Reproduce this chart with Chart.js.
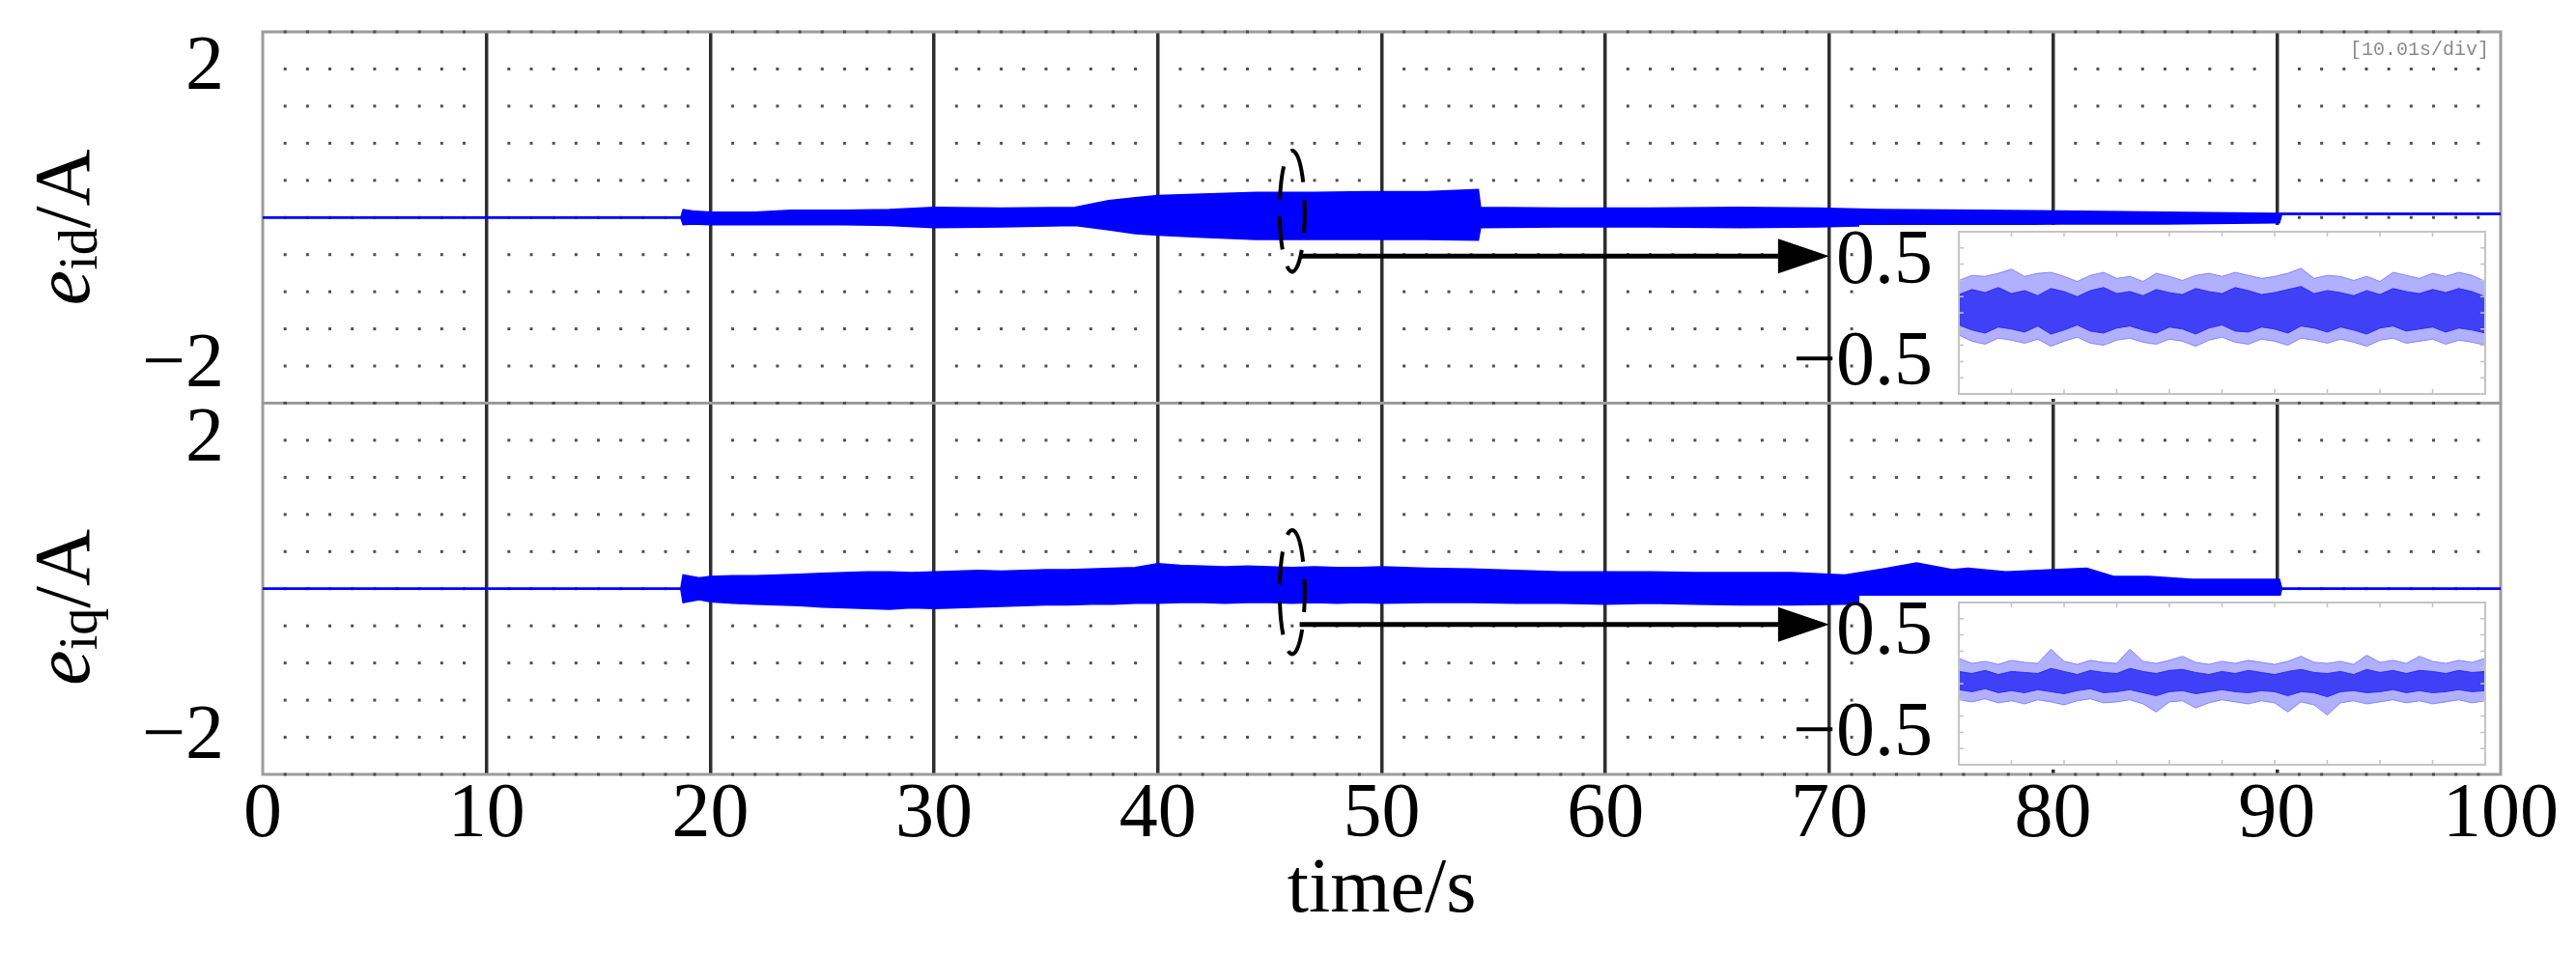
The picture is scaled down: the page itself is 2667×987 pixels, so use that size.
<!DOCTYPE html>
<html>
<head>
<meta charset="utf-8">
<title>e_id / e_iq</title>
<script src="https://cdn.jsdelivr.net/npm/chart.js@4.4.1/dist/chart.umd.min.js"></script>
<style>
  html, body { margin: 0; padding: 0; background: #fff; }
  #wrap { position: relative; width: 2667px; height: 987px; }
  canvas { position: absolute; }
</style>
</head>
<body>
<div id="wrap">
  <canvas id="main" width="2667" height="987" style="left:0;top:0"></canvas>
  <canvas id="inset-id" width="740" height="230" style="left:1860px;top:200px"></canvas>
  <canvas id="inset-iq" width="740" height="230" style="left:1860px;top:584px"></canvas>
</div>
<script>

// e_id envelope (A), upper panel
const idTime  = [0, 18.7, 18.8, 19.2, 20, 22, 23.6, 26, 28, 30, 33, 36.3, 37.8, 39, 40, 42, 44.4, 47, 49.4, 52, 54.3, 54.4, 58, 62, 66, 69.5, 72.2, 76.7, 80.3, 85, 90.1, 90.2, 100];
const idUpper = [0, 0, 0.10, 0.08, 0.065, 0.065, 0.09, 0.09, 0.10, 0.13, 0.12, 0.13, 0.22, 0.26, 0.29, 0.31, 0.33, 0.33, 0.34, 0.34, 0.37, 0.13, 0.12, 0.12, 0.13, 0.12, 0.10, 0.09, 0.08, 0.065, 0.05, 0.05, 0.05];
const idLower = [0, 0, -0.09, -0.08, -0.09, -0.09, -0.09, -0.09, -0.10, -0.13, -0.12, -0.10, -0.16, -0.21, -0.23, -0.26, -0.29, -0.29, -0.29, -0.29, -0.30, -0.13, -0.12, -0.12, -0.13, -0.12, -0.10, -0.09, -0.08, -0.08, -0.065, 0.05, 0.05];

// e_iq envelope (A), lower panel
const iqTime  = [0, 18.7, 18.8, 19.5, 20, 21, 22, 23, 24, 25, 26, 27, 28, 29, 30, 31, 32, 33, 34, 35, 36, 37, 38, 39, 40, 41, 42, 43, 44, 45, 46, 47, 48, 49, 50, 52, 54, 56, 58, 60, 62, 64, 66, 68.3, 70.7, 72.4, 73.9, 75.5, 76.2, 77.9, 80, 81.5, 82.7, 84.3, 86.2, 88, 90.1, 90.2, 100];
const iqUpper = [0, 0, 0.18, 0.14, 0.16, 0.17, 0.17, 0.18, 0.19, 0.20, 0.21, 0.22, 0.22, 0.21, 0.22, 0.23, 0.24, 0.23, 0.24, 0.25, 0.25, 0.26, 0.27, 0.28, 0.33, 0.31, 0.30, 0.29, 0.30, 0.29, 0.28, 0.29, 0.28, 0.28, 0.29, 0.27, 0.26, 0.24, 0.22, 0.22, 0.22, 0.21, 0.21, 0.21, 0.18, 0.26, 0.34, 0.25, 0.27, 0.22, 0.25, 0.27, 0.16, 0.16, 0.12, 0.12, 0.12, 0, 0];
const iqLower = [0, 0, -0.18, -0.14, -0.17, -0.19, -0.20, -0.21, -0.22, -0.24, -0.25, -0.26, -0.27, -0.25, -0.26, -0.25, -0.24, -0.23, -0.22, -0.21, -0.21, -0.20, -0.20, -0.19, -0.19, -0.18, -0.18, -0.19, -0.18, -0.18, -0.19, -0.18, -0.19, -0.18, -0.19, -0.18, -0.18, -0.19, -0.19, -0.20, -0.19, -0.20, -0.21, -0.21, -0.20, -0.17, -0.16, -0.15, -0.15, -0.14, -0.13, -0.13, -0.12, -0.12, -0.12, -0.12, -0.12, 0, 0];

// zoomed insets (same amplitude units, 10 divisions across)
const insetX = [0, 0.25, 0.5, 0.75, 1, 1.25, 1.5, 1.75, 2, 2.25, 2.5, 2.75, 3, 3.25, 3.5, 3.75, 4, 4.25, 4.5, 4.75, 5, 5.25, 5.5, 5.75, 6, 6.25, 6.5, 6.75, 7, 7.25, 7.5, 7.75, 8, 8.25, 8.5, 8.75, 9, 9.25, 9.5, 9.75, 10];
const idOuterTop = [0.32, 0.37, 0.36, 0.39, 0.43, 0.36, 0.39, 0.40, 0.36, 0.31, 0.37, 0.40, 0.34, 0.36, 0.31, 0.39, 0.36, 0.32, 0.37, 0.39, 0.36, 0.40, 0.37, 0.34, 0.36, 0.39, 0.44, 0.34, 0.37, 0.36, 0.32, 0.36, 0.31, 0.40, 0.37, 0.34, 0.39, 0.36, 0.40, 0.37, 0.31];
const idOuterBot = [-0.22, -0.28, -0.31, -0.25, -0.27, -0.30, -0.26, -0.33, -0.28, -0.24, -0.30, -0.32, -0.27, -0.25, -0.29, -0.31, -0.26, -0.28, -0.33, -0.27, -0.24, -0.29, -0.31, -0.26, -0.28, -0.32, -0.25, -0.27, -0.30, -0.26, -0.29, -0.33, -0.27, -0.25, -0.30, -0.28, -0.26, -0.31, -0.27, -0.29, -0.32];
const idCoreTop  = [0.18, 0.23, 0.20, 0.25, 0.19, 0.22, 0.17, 0.24, 0.21, 0.16, 0.22, 0.25, 0.19, 0.21, 0.17, 0.23, 0.20, 0.18, 0.24, 0.21, 0.19, 0.25, 0.22, 0.18, 0.20, 0.23, 0.26, 0.19, 0.22, 0.20, 0.17, 0.22, 0.18, 0.24, 0.21, 0.19, 0.23, 0.20, 0.24, 0.21, 0.16];
const idCoreBot  = [-0.12, -0.17, -0.20, -0.14, -0.16, -0.19, -0.13, -0.21, -0.17, -0.12, -0.18, -0.20, -0.15, -0.13, -0.17, -0.20, -0.14, -0.16, -0.21, -0.15, -0.12, -0.18, -0.19, -0.14, -0.16, -0.20, -0.13, -0.15, -0.19, -0.14, -0.17, -0.21, -0.15, -0.13, -0.18, -0.16, -0.14, -0.19, -0.15, -0.17, -0.20];
const iqOuterTop = [0.25, 0.20, 0.22, 0.19, 0.23, 0.21, 0.20, 0.34, 0.22, 0.19, 0.23, 0.21, 0.20, 0.34, 0.22, 0.20, 0.23, 0.27, 0.21, 0.19, 0.22, 0.20, 0.23, 0.21, 0.19, 0.22, 0.27, 0.21, 0.20, 0.22, 0.19, 0.28, 0.21, 0.23, 0.20, 0.27, 0.22, 0.20, 0.23, 0.21, 0.25];
const iqOuterBot = [-0.16, -0.18, -0.15, -0.19, -0.17, -0.20, -0.16, -0.18, -0.21, -0.17, -0.15, -0.19, -0.18, -0.16, -0.20, -0.28, -0.18, -0.17, -0.24, -0.19, -0.16, -0.18, -0.20, -0.17, -0.19, -0.28, -0.18, -0.21, -0.31, -0.19, -0.17, -0.20, -0.18, -0.16, -0.19, -0.17, -0.20, -0.18, -0.16, -0.19, -0.17];
const iqCoreTop  = [0.12, 0.10, 0.13, 0.09, 0.12, 0.11, 0.10, 0.15, 0.12, 0.09, 0.13, 0.11, 0.10, 0.15, 0.12, 0.10, 0.13, 0.14, 0.11, 0.09, 0.12, 0.10, 0.13, 0.11, 0.09, 0.12, 0.14, 0.11, 0.10, 0.12, 0.09, 0.14, 0.11, 0.13, 0.10, 0.13, 0.12, 0.10, 0.13, 0.11, 0.12];
const iqCoreBot  = [-0.06, -0.08, -0.05, -0.09, -0.07, -0.09, -0.06, -0.08, -0.10, -0.07, -0.05, -0.09, -0.08, -0.06, -0.09, -0.12, -0.08, -0.07, -0.10, -0.08, -0.06, -0.08, -0.09, -0.07, -0.08, -0.12, -0.08, -0.09, -0.13, -0.08, -0.07, -0.09, -0.08, -0.06, -0.09, -0.07, -0.09, -0.08, -0.06, -0.08, -0.07];

// axes
const xTickStep = 10;
const yTickVals = [-2, 2];
const divRows = [-2.5, -2, -1.5, -1, -0.5, 0, 0.5, 1, 1.5, 2, 2.5];
const insetTicks = [-0.5, 0.5];

// marked window and arrow into the insets
const markT = 46;
const markHalfW = 0.56;
const markSpanId = [0.9, -0.73];
const markSpanIq = [0.79, -0.88];
const arrowToT = 70;
const arrowVId = -0.52;
const arrowVIq = -0.48;

const BLUE = '#0000ff';
const SERIF = '"Liberation Serif", "Times New Roman", serif';

const fmt = v => (v < 0 ? '\u2212' + Math.abs(v) : String(v));
const mkPts = (ts, vs) => ts.map((t, i) => ({ x: t, y: vs[i] }));

// ─── Main scope chart ───

function drawAxisTitle(ctx, bx, cy, sub) {
  ctx.save();
  ctx.translate(bx, cy);
  ctx.rotate(-Math.PI / 2);
  ctx.fillStyle = '#000';
  ctx.textBaseline = 'alphabetic';
  const fe = `italic 82px ${SERIF}`, fs = `56px ${SERIF}`, fa = `82px ${SERIF}`;
  ctx.font = fe; const we = ctx.measureText('e').width;
  ctx.font = fs; const ws = ctx.measureText(sub).width;
  ctx.font = fa; const wa = ctx.measureText('/A').width;
  let px = -(we + ws + wa) / 2;
  ctx.font = fe; ctx.fillText('e', px, 0); px += we;
  ctx.font = fs; ctx.fillText(sub, px, 8); px += ws;
  ctx.font = fa; ctx.fillText('/A', px, 0);
  ctx.restore();
}

function drawMark(ctx, x, y, span, arrowV) {
  const cx = x.getPixelForValue(markT);
  const rx = x.getPixelForValue(markT + markHalfW) - cx;
  const top = y.getPixelForValue(span[0]);
  const bot = y.getPixelForValue(span[1]);
  ctx.strokeStyle = '#000';
  ctx.fillStyle = '#000';
  ctx.lineWidth = 4;
  ctx.setLineDash([34, 18]);
  ctx.beginPath();
  ctx.ellipse(cx, (top + bot) / 2, rx, (bot - top) / 2, 0, -Math.PI * 0.45, Math.PI * 1.55);
  ctx.stroke();
  ctx.setLineDash([]);

  const ay = y.getPixelForValue(arrowV);
  const tip = x.getPixelForValue(arrowToT);
  ctx.lineWidth = 5;
  ctx.beginPath();
  ctx.moveTo(cx + rx * 0.6, ay);
  ctx.lineTo(tip - 50, ay);
  ctx.stroke();
  ctx.beginPath();
  ctx.moveTo(tip, ay);
  ctx.lineTo(tip - 53, ay - 18);
  ctx.lineTo(tip - 53, ay + 18);
  ctx.closePath();
  ctx.fill();
}

const scopePlugin = {
  id: 'scope',
  beforeDatasetsDraw(chart) {
    const { ctx, chartArea: a, scales } = chart;
    const x = scales.x;
    ctx.save();
    // frame + divider between the two traces
    ctx.strokeStyle = '#9c9c9c';
    ctx.lineWidth = 3;
    ctx.strokeRect(a.left, a.top, a.width, a.height);
    ctx.beginPath();
    ctx.moveTo(a.left, scales.yTop.bottom);
    ctx.lineTo(a.right, scales.yTop.bottom);
    ctx.stroke();
    // dotted graticule, 10 dots per division
    ctx.fillStyle = '#505050';
    for (const id of ['yTop', 'yBot']) {
      const y = scales[id];
      for (const v of divRows) {
        const py = y.getPixelForValue(v);
        for (let t = 0; t <= 100; t++) {
          if (t % xTickStep === 0) continue;
          ctx.fillRect(x.getPixelForValue(t) - 1.5, py - 1.5, 3, 3);
        }
      }
    }
    ctx.restore();
  },
  afterDatasetsDraw(chart) {
    const { ctx, chartArea: a, scales } = chart;
    ctx.save();
    drawMark(ctx, scales.x, scales.yTop, markSpanId, arrowVId);
    drawMark(ctx, scales.x, scales.yBot, markSpanIq, arrowVIq);
    ctx.fillStyle = '#8a8a8a';
    ctx.font = '20px "Liberation Mono", monospace';
    ctx.textAlign = 'right';
    ctx.textBaseline = 'alphabetic';
    ctx.fillText('[10.01s/div]', a.right - 12, a.top + 24);
    ctx.restore();
  },
  afterDraw(chart) {
    const { ctx, scales } = chart;
    drawAxisTitle(ctx, 92, (scales.yTop.top + scales.yTop.bottom) / 2 + 10, 'id');
    drawAxisTitle(ctx, 92, (scales.yBot.top + scales.yBot.bottom) / 2 + 19, 'iq');
  }
};

// big tick labels would otherwise push the plot area inwards
const noLabelPad = s => { s.paddingTop = 0; s.paddingBottom = 0; s.paddingLeft = 0; s.paddingRight = 0; };

const panelAxis = () => ({
  type: 'linear',
  position: 'left',
  stack: 'scope',
  stackWeight: 1,
  min: -2.5,
  max: 2.5,
  afterBuildTicks: s => { s.ticks = yTickVals.map(v => ({ value: v })); },
  afterFit: s => { s.width = 272; noLabelPad(s); },
  ticks: { font: { family: SERIF, size: 80 }, color: '#000', padding: 32, callback: fmt },
  grid: { display: false },
  border: { display: false }
});

const traceSet = (ts, vs, axis, fill) => ({
  data: mkPts(ts, vs),
  yAxisID: axis,
  borderColor: BLUE,
  backgroundColor: BLUE,
  borderWidth: 2.5,
  pointRadius: 0,
  tension: 0,
  fill
});

new Chart(document.getElementById('main'), {
  type: 'line',
  data: {
    datasets: [
      traceSet(idTime, idUpper, 'yTop', '+1'),
      traceSet(idTime, idLower, 'yTop', false),
      traceSet(iqTime, iqUpper, 'yBot', '+1'),
      traceSet(iqTime, iqLower, 'yBot', false)
    ]
  },
  options: {
    responsive: false,
    animation: false,
    devicePixelRatio: 1,
    layout: { padding: { top: 33, right: 78, bottom: 0, left: 0 } },
    plugins: { legend: { display: false }, tooltip: { enabled: false } },
    scales: {
      x: {
        type: 'linear',
        min: 0,
        max: 100,
        afterFit: s => { s.height = 185; noLabelPad(s); },
        ticks: { stepSize: xTickStep, autoSkip: false, maxRotation: 0, font: { family: SERIF, size: 80 }, color: '#000', padding: -5 },
        grid: {
          drawTicks: false,
          lineWidth: 3.5,
          color: c => (c.tick && (c.tick.value === 0 || c.tick.value === 100) ? 'rgba(0,0,0,0)' : '#2e2e2e')
        },
        border: { display: false },
        title: { display: true, text: 'time/s', font: { family: SERIF, size: 80 }, color: '#000', padding: { top: 0, bottom: 16 } }
      },
      yBot: panelAxis(),
      yTop: panelAxis()
    }
  },
  plugins: [scopePlugin]
});

// ─── Insets ───

const insetFrame = {
  id: 'insetFrame',
  beforeDraw(chart) {
    const { ctx, chartArea: a } = chart;
    ctx.save();
    ctx.fillStyle = '#fff';
    ctx.fillRect(a.left - 103, a.top - 7, a.width + 116, a.height + 12);
    ctx.restore();
  },
  afterDatasetsDraw(chart) {
    const { ctx, chartArea: a, scales } = chart;
    ctx.save();
    ctx.strokeStyle = '#c4c4c4';
    ctx.lineWidth = 2;
    ctx.strokeRect(a.left, a.top, a.width, a.height);
    ctx.lineWidth = 1.5;
    ctx.beginPath();
    for (let i = 1; i < 10; i++) {
      const px = scales.x.getPixelForValue(i);
      ctx.moveTo(px, a.top); ctx.lineTo(px, a.top + 5);
      ctx.moveTo(px, a.bottom); ctx.lineTo(px, a.bottom - 5);
      const py = scales.y.getPixelForValue(-0.8 + i * 0.16);
      ctx.moveTo(a.left, py); ctx.lineTo(a.left + 5, py);
      ctx.moveTo(a.right, py); ctx.lineTo(a.right - 5, py);
    }
    ctx.stroke();
    ctx.restore();
  }
};

function makeInset(id, outerTop, outerBot, coreTop, coreBot) {
  const band = (vs, color, fillColor, fill) => ({
    data: mkPts(insetX, vs),
    borderColor: color,
    backgroundColor: fillColor,
    borderWidth: 1,
    pointRadius: 0,
    tension: 0,
    fill
  });
  return new Chart(document.getElementById(id), {
    type: 'line',
    data: {
      datasets: [
        band(outerTop, 'rgba(70,70,255,0.55)', 'rgba(80,80,255,0.45)', '+1'),
        band(outerBot, 'rgba(70,70,255,0.55)', 'rgba(80,80,255,0.45)', false),
        band(coreTop, 'rgba(0,0,235,0.85)', 'rgba(0,0,235,0.8)', '+1'),
        band(coreBot, 'rgba(0,0,235,0.85)', 'rgba(0,0,235,0.8)', false)
      ]
    },
    options: {
      responsive: false,
      animation: false,
      devicePixelRatio: 1,
      layout: { padding: { top: 40, right: 27, bottom: 22, left: 0 } },
      plugins: { legend: { display: false }, tooltip: { enabled: false } },
      scales: {
        x: { type: 'linear', min: 0, max: 10, display: false },
        y: {
          type: 'linear',
          min: -0.8,
          max: 0.8,
          afterBuildTicks: s => { s.ticks = insetTicks.map(v => ({ value: v })); },
          afterFit: s => { s.width = 168; noLabelPad(s); },
          ticks: { font: { family: SERIF, size: 80 }, color: '#000', padding: 19, callback: fmt },
          grid: { display: false },
          border: { display: false }
        }
      }
    },
    plugins: [insetFrame]
  });
}

makeInset('inset-id', idOuterTop, idOuterBot, idCoreTop, idCoreBot);
makeInset('inset-iq', iqOuterTop, iqOuterBot, iqCoreTop, iqCoreBot);
</script>
</body>
</html>
